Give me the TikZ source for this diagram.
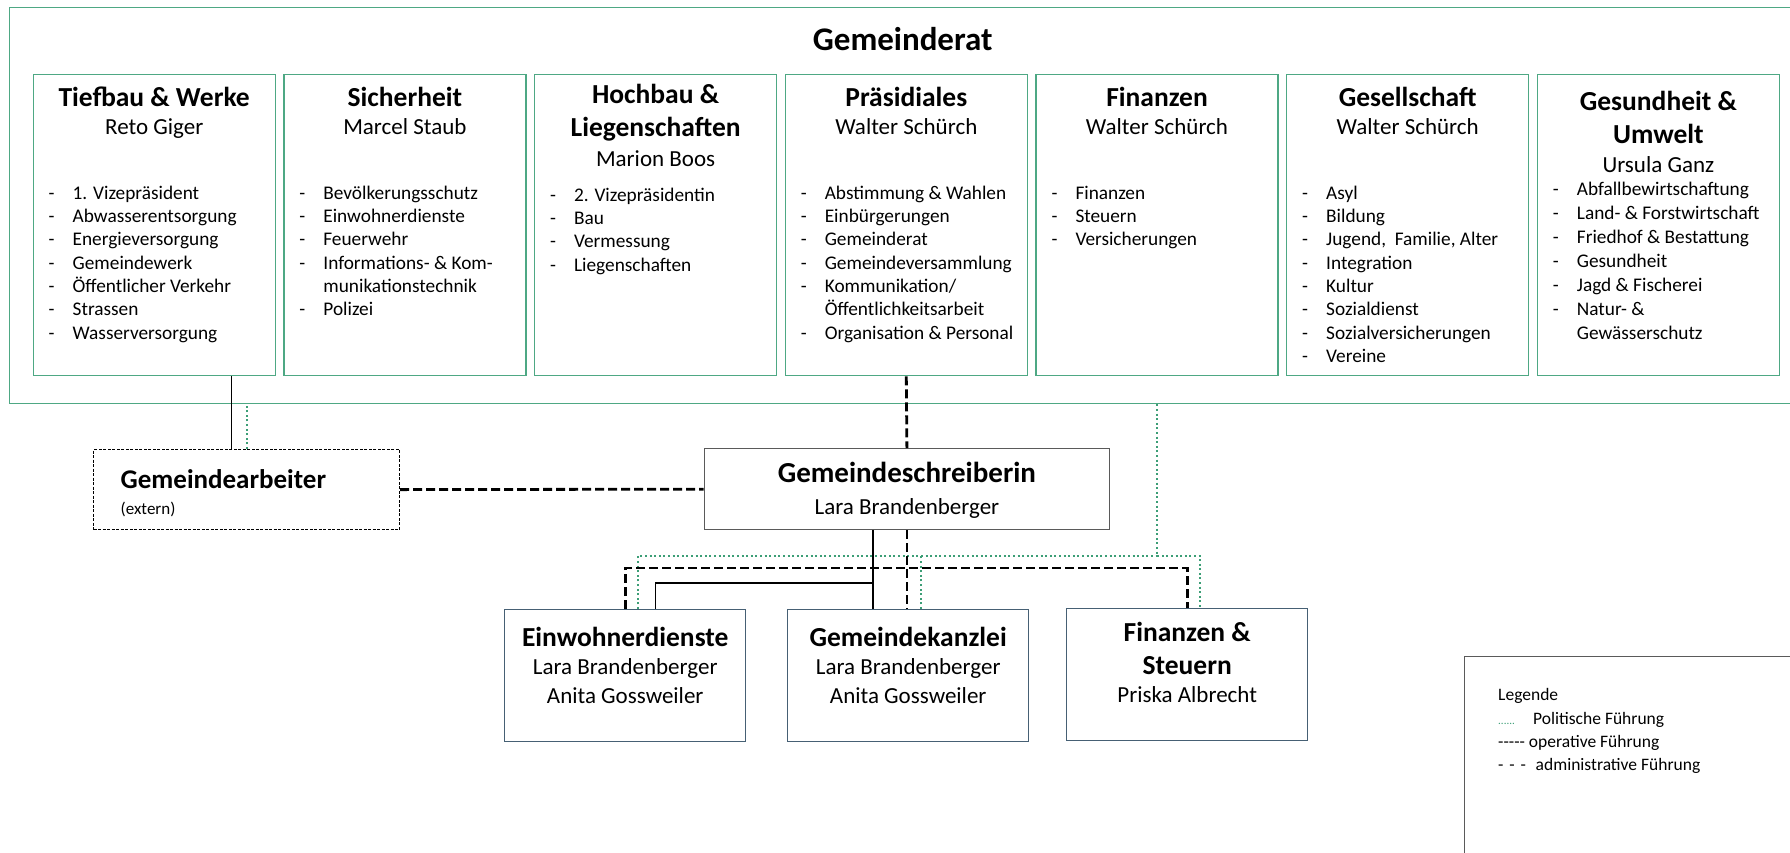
\documentclass[tikz,border=0pt]{standalone}
\usepackage{fontspec}
\setmainfont{Carlito}
\usepackage{xcolor}
\usetikzlibrary{positioning}

\definecolor{ratgruen}{RGB}{78,168,132}
\definecolor{politgruen}{RGB}{60,158,118}
\definecolor{kasten}{RGB}{70,96,116}
\definecolor{rahmen}{RGB}{90,90,90}

% Aufzaehlung mit Strich
\newcommand{\aufz}[1]{\begin{tabular}{@{}p{24pt}@{}l@{}}#1\end{tabular}}

\begin{document}
\begin{tikzpicture}[x=1pt,y=-1pt,
  ressort/.style={draw=ratgruen,line width=1.4pt,minimum width=242pt,
                  minimum height=301pt,anchor=north west,inner sep=0pt},
  stelle/.style={draw=kasten,line width=1.4pt,minimum width=241pt,
                 minimum height=132pt,anchor=north west,inner sep=0pt},
  titel/.style={anchor=base,inner sep=0pt,font=\fontsize{27.5}{33}\selectfont\bfseries},
  person/.style={anchor=base,inner sep=0pt,font=\fontsize{23}{28}\selectfont},
  liste/.style={anchor=north west,inner sep=0pt,font=\fontsize{19.3}{23.3}\selectfont},
  legtext/.style={anchor=base west,inner sep=0pt,font=\fontsize{17.5}{21}\selectfont},
  oper/.style={line width=1.2pt},
  admin/.style={line width=2.8pt,dash pattern=on 9pt off 4pt},
  polit/.style={draw=politgruen,line width=2pt,dash pattern=on 2pt off 2.6pt}
]
\useasboundingbox (0,0) rectangle (1790,852);

% Gemeinderat
\node[draw=ratgruen,line width=1.4pt,minimum width=1786pt,minimum height=396pt,
      anchor=north west,inner sep=0pt] (rat) at (9,7) {};
\node[anchor=base,inner sep=0pt,font=\fontsize{33}{40}\selectfont\bfseries]
  (ratT) at (rat.north |- 0,50) {Gemeinderat};

\node[ressort] (tief) at (32.5,74) {};
\node[ressort, right=7.3pt of tief] (sich) {};
\node[ressort, right=7.3pt of sich] (hoch) {};
\node[ressort, right=7.3pt of hoch] (praes) {};
\node[ressort, right=7.3pt of praes] (finanz) {};
\node[ressort, right=7.3pt of finanz] (gesell) {};
\node[ressort, right=7.3pt of gesell] (gesund) {};

% Tiefbau & Werke
\node[titel] (tiefT) at (tief.north |- 0,106) {Tiefbau \& Werke};
\node[person] (tiefP) at (tief.north |- 0,134) {Reto Giger};
\node[liste] (tiefL) at ([xshift=16pt]tief.west |- 0,182.7) {\aufz{
  - & 1. Vizepräsident\\ - & Abwasserentsorgung\\ - & Energieversorgung\\
  - & Gemeindewerk\\ - & Öffentlicher Verkehr\\ - & Strassen\\ - & Wasserversorgung}};

% Sicherheit
\node[titel] (sichT) at (sich.north |- 0,106) {Sicherheit};
\node[person] (sichP) at (sich.north |- 0,134) {Marcel Staub};
\node[liste] (sichL) at ([xshift=16pt]sich.west |- 0,182.7) {\aufz{
  - & Bevölkerungsschutz\\ - & Einwohnerdienste\\ - & Feuerwehr\\
  - & Informations- \& Kom-\\ & munikationstechnik\\ - & Polizei}};

% Hochbau & Liegenschaften
\node[titel] (hochT) at (hoch.north |- 0,103) {Hochbau \&};
\node[titel] (hochT2) at (hoch.north |- 0,136) {Liegenschaften};
\node[person] (hochP) at (hoch.north |- 0,166) {Marion Boos};
\node[liste] (hochL) at ([xshift=16pt]hoch.west |- 0,184.7) {\aufz{
  - & 2. Vizepräsidentin\\ - & Bau\\ - & Vermessung\\ - & Liegenschaften}};

% Praesidiales
\node[titel] (praesT) at (praes.north |- 0,106) {Präsidiales};
\node[person] (praesP) at (praes.north |- 0,134) {Walter Schürch};
\node[liste] (praesL) at ([xshift=16pt]praes.west |- 0,182.7) {\aufz{
  - & Abstimmung \& Wahlen\\ - & Einbürgerungen\\ - & Gemeinderat\\
  - & Gemeindeversammlung\\ - & Kommunikation/\\ & Öffentlichkeitsarbeit\\
  - & Organisation \& Personal}};

% Finanzen
\node[titel] (finanzT) at (finanz.north |- 0,106) {Finanzen};
\node[person] (finanzP) at (finanz.north |- 0,134) {Walter Schürch};
\node[liste] (finanzL) at ([xshift=16pt]finanz.west |- 0,182.7) {\aufz{
  - & Finanzen\\ - & Steuern\\ - & Versicherungen}};

% Gesellschaft
\node[titel] (gesellT) at (gesell.north |- 0,106) {Gesellschaft};
\node[person] (gesellP) at (gesell.north |- 0,134) {Walter Schürch};
\node[liste] (gesellL) at ([xshift=16pt]gesell.west |- 0,182.7) {\aufz{
  - & Asyl\\ - & Bildung\\ - & Jugend,~ Familie, Alter\\ - & Integration\\
  - & Kultur\\ - & Sozialdienst\\ - & Sozialversicherungen\\ - & Vereine}};

% Gesundheit & Umwelt
\node[titel] (gesundT) at (gesund.north |- 0,110) {Gesundheit \&};
\node[titel] (gesundT2) at (gesund.north |- 0,143) {Umwelt};
\node[person] (gesundP) at (gesund.north |- 0,172) {Ursula Ganz};
\node[liste,font=\fontsize{19.3}{24}\selectfont] (gesundL)
  at ([xshift=16pt]gesund.west |- 0,178.2) {\aufz{
  - & Abfallbewirtschaftung\\ - & Land- \& Forstwirtschaft\\
  - & Friedhof \& Bestattung\\ - & Gesundheit\\ - & Jagd \& Fischerei\\
  - & Natur- \&\\ & Gewässerschutz}};

% Verwaltung
\node[draw=black,line width=1.2pt,dash pattern=on 3pt off 1.5pt,minimum width=306pt,
      minimum height=80pt,anchor=north west,inner sep=0pt] (arbeiter) at (93,449) {};
\node[anchor=base west,inner sep=0pt,font=\fontsize{27}{32}\selectfont\bfseries]
  (arbeiterT) at (120.5,488) {Gemeindearbeiter};
\node[anchor=base west,inner sep=0pt,font=\fontsize{17}{20}\selectfont]
  (arbeiterE) at (120.5,514) {(extern)};

\node[draw=rahmen,line width=1.3pt,minimum width=405.5pt,minimum height=81pt,
      anchor=north west,inner sep=0pt] (schreib) at (703.5,448) {};
\node[anchor=base,inner sep=0pt,font=\fontsize{29}{34}\selectfont\bfseries]
  (schreibT) at (schreib.north |- 0,482) {Gemeindeschreiberin};
\node[person] (schreibP) at (schreib.north |- 0,514) {Lara Brandenberger};

\node[stelle] (einw) at (504,609) {};
\node[stelle] (kanzlei) at (787,609) {};
\node[stelle] (steuer) at (1066,608) {};

\node[titel] (einwT) at (einw.north |- 0,646) {Einwohnerdienste};
\node[person] (einwP) at (einw.north |- 0,674) {Lara Brandenberger};
\node[person] (einwP2) at (einw.north |- 0,703) {Anita Gossweiler};
\node[titel] (kanzleiT) at (kanzlei.north |- 0,646) {Gemeindekanzlei};
\node[person] (kanzleiP) at (kanzlei.north |- 0,674) {Lara Brandenberger};
\node[person] (kanzleiP2) at (kanzlei.north |- 0,703) {Anita Gossweiler};
\node[titel] (steuerT) at (steuer.north |- 0,641) {Finanzen \&};
\node[titel] (steuerT2) at (steuer.north |- 0,674) {Steuern};
\node[person] (steuerP) at (steuer.north |- 0,702) {Priska Albrecht};

% Legende
\node[draw=rahmen,line width=1.2pt,minimum width=345pt,minimum height=210pt,
      anchor=north west,inner sep=0pt] (leg) at (1464,656) {};
\node[legtext] (legT) at (1498,700) {Legende};
\node[legtext,font=\fontsize{11}{13}\selectfont,text=politgruen] (legP) at (1498,724) {......};
\node[legtext] (legP2) at (1533,724) {Politische Führung};
\node[legtext] (legO) at (1498,747) {-{}-{}-{}-{}- operative Führung};
\node[legtext] (legA) at (1498,770) {-\,\,-\,\,-\,\, administrative Führung};

\coordinate (pbus) at (0,556);
\coordinate (abus) at (0,568);
\coordinate (obus) at (0,583);

% politische Fuehrung
\draw[polit] (arbeiter.north) -- (arbeiter.north |- rat.south);
\draw[polit] (finanz.south |- rat.south) -- (finanz.south |- pbus)
  -| ([xshift=13pt]steuer.north);
\draw[polit] ([xshift=13pt]einw.north) |- (finanz.south |- pbus);
\draw[polit] ([xshift=13pt]kanzlei.north) -- ([xshift=13pt]kanzlei.north |- pbus);

% operative Fuehrung
\draw[oper] ([xshift=-15pt]arbeiter.north) -- ([xshift=-15pt]arbeiter.north |- tief.south);
\draw[oper] ([xshift=-34pt]schreib.south) -- ([xshift=-34pt]schreib.south |- kanzlei.north);
\draw[oper] ([xshift=30pt]einw.north) |- ([xshift=-34pt]schreib.south |- obus);

% administrative Fuehrung
\draw[admin] (arbeiter.east) -- (schreib.west);
\draw[admin] (praes.south) -- (schreib.north);
\draw[admin] (schreib.south) -- (schreib.south |- kanzlei.north);
\draw[admin] (einw.north) |- (steuer.north |- abus) -- (steuer.north);
\end{tikzpicture}
\end{document}
